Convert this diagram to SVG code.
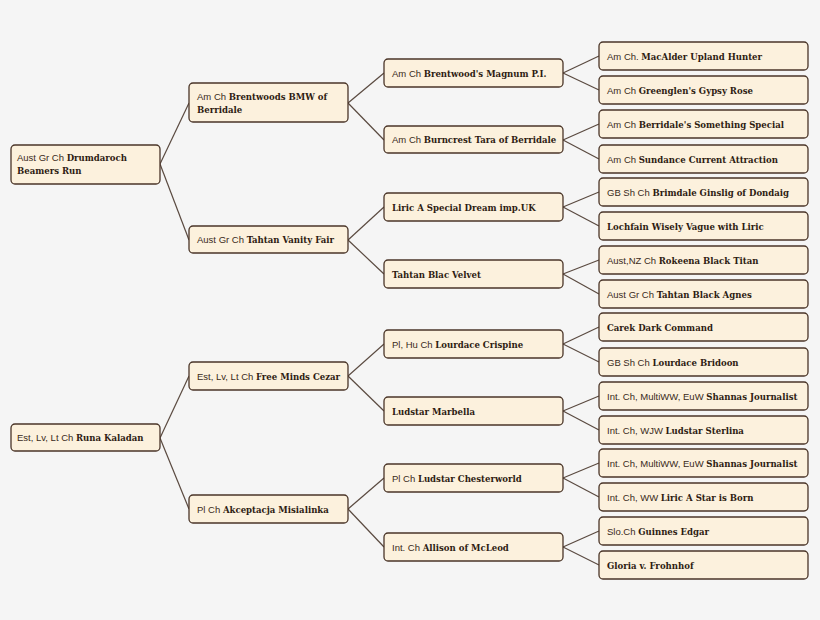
<svg xmlns="http://www.w3.org/2000/svg" width="820" height="620" viewBox="0 0 820 620">
<style>
.n rect{fill:#fcf1dd;stroke:#4a3528;stroke-width:1.3}
text{font-family:"Liberation Sans",Arial,sans-serif;font-size:9.5px;fill:#3a2a20}
.b{font-family:"DejaVu Serif Condensed","DejaVu Serif",serif;font-weight:bold;font-size:9.5px;fill:#2e1c12}
#c line{stroke:#5a4a40;stroke-width:1.2}
</style>
<rect width="820" height="620" fill="#f5f5f5"/>
<g id="c">
<line x1="160" y1="164" x2="189" y2="103"/><line x1="160" y1="164" x2="189" y2="240"/>
<line x1="160" y1="438" x2="189" y2="376"/><line x1="160" y1="438" x2="189" y2="509"/>
<line x1="348" y1="103" x2="384" y2="73"/><line x1="348" y1="103" x2="384" y2="140"/>
<line x1="348" y1="240" x2="384" y2="207"/><line x1="348" y1="240" x2="384" y2="274"/>
<line x1="348" y1="376" x2="384" y2="344"/><line x1="348" y1="376" x2="384" y2="411"/>
<line x1="348" y1="509" x2="384" y2="478"/><line x1="348" y1="509" x2="384" y2="547"/>
<line x1="563" y1="73" x2="599" y2="56"/><line x1="563" y1="73" x2="599" y2="90"/>
<line x1="563" y1="140" x2="599" y2="124"/><line x1="563" y1="140" x2="599" y2="159"/>
<line x1="563" y1="207" x2="599" y2="192"/><line x1="563" y1="207" x2="599" y2="226"/>
<line x1="563" y1="274" x2="599" y2="260"/><line x1="563" y1="274" x2="599" y2="294"/>
<line x1="563" y1="344" x2="599" y2="327"/><line x1="563" y1="344" x2="599" y2="362"/>
<line x1="563" y1="411" x2="599" y2="396"/><line x1="563" y1="411" x2="599" y2="430"/>
<line x1="563" y1="478" x2="599" y2="463"/><line x1="563" y1="478" x2="599" y2="497"/>
<line x1="563" y1="547" x2="599" y2="531"/><line x1="563" y1="547" x2="599" y2="565"/>
</g>
<g id="n1" class="n"><rect x="11" y="145" width="149" height="39" rx="4"/><text x="17" y="161">Aust Gr Ch <tspan class="b">Drumdaroch</tspan></text><text x="17" y="174" class="b">Beamers Run</text></g>
<g id="n2" class="n"><rect x="11" y="424" width="149" height="27" rx="4"/><text x="17" y="441">Est, Lv, Lt Ch <tspan class="b">Runa Kaladan</tspan></text></g>
<g id="n3" class="n"><rect x="189" y="83" width="159" height="39" rx="4"/><text x="197" y="100">Am Ch <tspan class="b">Brentwoods BMW of</tspan></text><text x="197" y="113" class="b">Berridale</text></g>
<g id="n4" class="n"><rect x="189" y="226" width="159" height="27" rx="4"/><text x="197" y="243">Aust Gr Ch <tspan class="b">Tahtan Vanity Fair</tspan></text></g>
<g id="n5" class="n"><rect x="189" y="362" width="159" height="28" rx="4"/><text x="197" y="380">Est, Lv, Lt Ch <tspan class="b">Free Minds Cezar</tspan></text></g>
<g id="n6" class="n"><rect x="189" y="495" width="159" height="28" rx="4"/><text x="197" y="513">Pl Ch <tspan class="b">Akceptacja Misialinka</tspan></text></g>
<g id="n7" class="n"><rect x="384" y="59" width="179" height="28" rx="4"/><text x="392" y="77">Am Ch <tspan class="b">Brentwood's Magnum P.I.</tspan></text></g>
<g id="n8" class="n"><rect x="384" y="126" width="179" height="27" rx="4"/><text x="392" y="143">Am Ch <tspan class="b">Burncrest Tara of Berridale</tspan></text></g>
<g id="n9" class="n"><rect x="384" y="193" width="179" height="28" rx="4"/><text x="392" y="211" class="b">Liric A Special Dream imp.UK</text></g>
<g id="n10" class="n"><rect x="384" y="260" width="179" height="28" rx="4"/><text x="392" y="278" class="b">Tahtan Blac Velvet</text></g>
<g id="n11" class="n"><rect x="384" y="330" width="179" height="28" rx="4"/><text x="392" y="348">Pl, Hu Ch <tspan class="b">Lourdace Crispine</tspan></text></g>
<g id="n12" class="n"><rect x="384" y="397" width="179" height="28" rx="4"/><text x="392" y="415" class="b">Ludstar Marbella</text></g>
<g id="n13" class="n"><rect x="384" y="464" width="179" height="28" rx="4"/><text x="392" y="482">Pl Ch <tspan class="b">Ludstar Chesterworld</tspan></text></g>
<g id="n14" class="n"><rect x="384" y="533" width="179" height="28" rx="4"/><text x="392" y="551">Int. Ch <tspan class="b">Allison of McLeod</tspan></text></g>
<g id="n15" class="n"><rect x="599" y="42" width="209" height="28" rx="4"/><text x="607" y="60">Am Ch. <tspan class="b">MacAlder Upland Hunter</tspan></text></g>
<g id="n16" class="n"><rect x="599" y="76" width="209" height="28" rx="4"/><text x="607" y="94">Am Ch <tspan class="b">Greenglen's Gypsy Rose</tspan></text></g>
<g id="n17" class="n"><rect x="599" y="110" width="209" height="28" rx="4"/><text x="607" y="128">Am Ch <tspan class="b">Berridale's Something Special</tspan></text></g>
<g id="n18" class="n"><rect x="599" y="145" width="209" height="28" rx="4"/><text x="607" y="163">Am Ch <tspan class="b">Sundance Current Attraction</tspan></text></g>
<g id="n19" class="n"><rect x="599" y="178" width="209" height="28" rx="4"/><text x="607" y="196">GB Sh Ch <tspan class="b">Brimdale Ginslig of Dondaig</tspan></text></g>
<g id="n20" class="n"><rect x="599" y="212" width="209" height="28" rx="4"/><text x="607" y="230" class="b">Lochfain Wisely Vague with Liric</text></g>
<g id="n21" class="n"><rect x="599" y="246" width="209" height="28" rx="4"/><text x="607" y="264">Aust,NZ Ch <tspan class="b">Rokeena Black Titan</tspan></text></g>
<g id="n22" class="n"><rect x="599" y="280" width="209" height="28" rx="4"/><text x="607" y="298">Aust Gr Ch <tspan class="b">Tahtan Black Agnes</tspan></text></g>
<g id="n23" class="n"><rect x="599" y="313" width="209" height="28" rx="4"/><text x="607" y="331" class="b">Carek Dark Command</text></g>
<g id="n24" class="n"><rect x="599" y="348" width="209" height="28" rx="4"/><text x="607" y="366">GB Sh Ch <tspan class="b">Lourdace Bridoon</tspan></text></g>
<g id="n25" class="n"><rect x="599" y="382" width="209" height="28" rx="4"/><text x="607" y="400">Int. Ch, MultiWW, EuW <tspan class="b">Shannas Journalist</tspan></text></g>
<g id="n26" class="n"><rect x="599" y="416" width="209" height="28" rx="4"/><text x="607" y="434">Int. Ch, WJW <tspan class="b">Ludstar Sterlina</tspan></text></g>
<g id="n27" class="n"><rect x="599" y="449" width="209" height="28" rx="4"/><text x="607" y="467">Int. Ch, MultiWW, EuW <tspan class="b">Shannas Journalist</tspan></text></g>
<g id="n28" class="n"><rect x="599" y="483" width="209" height="28" rx="4"/><text x="607" y="501">Int. Ch, WW <tspan class="b">Liric A Star is Born</tspan></text></g>
<g id="n29" class="n"><rect x="599" y="517" width="209" height="28" rx="4"/><text x="607" y="535">Slo.Ch <tspan class="b">Guinnes Edgar</tspan></text></g>
<g id="n30" class="n"><rect x="599" y="551" width="209" height="28" rx="4"/><text x="607" y="569" class="b">Gloria v. Frohnhof</text></g>
</svg>
